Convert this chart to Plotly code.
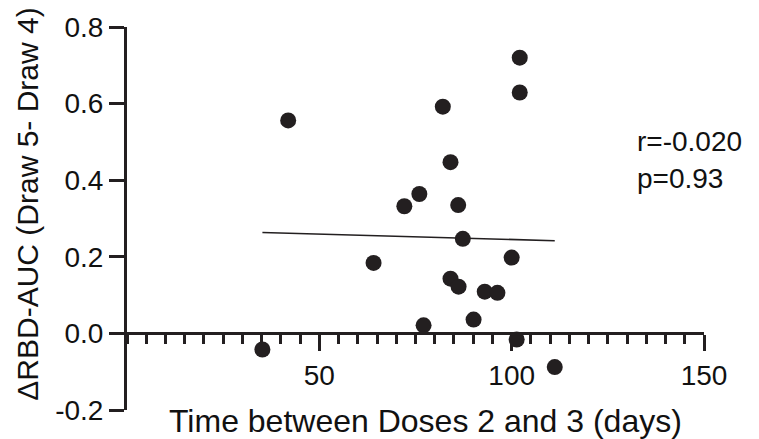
import numpy as np
import plotly.graph_objects as go

# Data
days = [35.2, 41.9, 64.1, 72.1, 76.0, 77.1, 82.1, 84.1, 84.1, 86.2,
        86.1, 87.3, 90.1, 93.0, 96.3, 100.0, 101.3, 102.1, 102.1, 111.2]
delta_auc = [-0.042, 0.556, 0.184, 0.332, 0.364, 0.021, 0.592, 0.447, 0.143, 0.122,
             0.335, 0.247, 0.036, 0.109, 0.106, 0.198, -0.016, 0.720, 0.629, -0.088]

x_ticks = [50, 100, 150]
y_ticks = [-0.2, 0.0, 0.2, 0.4, 0.6, 0.8]
y_tick_labels = ["-0.2", "0.0", "0.2", "0.4", "0.6", "0.8"]
stats_text = ["r=-0.020", "p=0.93"]

x_title = "Time between Doses 2 and 3 (days)"
y_title = "\u0394RBD-AUC (Draw 5- Draw 4)"

# linear regression from the data
slope, intercept = np.polyfit(days, delta_auc, 1)
fit_x = [min(days), max(days)]
fit_y = [slope * v + intercept for v in fit_x]

FONT = "Arial, Liberation Sans, Helvetica, sans-serif"
INK = "#231f20"

fig = go.Figure()
fig.add_trace(go.Scatter(x=fit_x, y=fit_y, mode="lines",
                         line=dict(color=INK, width=1.6), hoverinfo="skip",
                         showlegend=False))
fig.add_trace(go.Scatter(x=days, y=delta_auc, mode="markers",
                         marker=dict(size=16, color=INK), showlegend=False,
                         cliponaxis=False))

fig.update_layout(
    width=759, height=439,
    margin=dict(l=127, r=55, t=25, b=29),
    paper_bgcolor="white", plot_bgcolor="white",
    font=dict(family=FONT, color="#111111", size=26),
    xaxis=dict(range=[0, 150], anchor="free", position=0.2,
               showline=True, linecolor=INK, linewidth=3,
               ticks="outside", ticklen=16, tickwidth=3, tickcolor=INK,
               tickvals=x_ticks, ticktext=[str(v) for v in x_ticks],
               tickfont=dict(size=28), showgrid=False, zeroline=False,
               minor=dict(dtick=5, tick0=0, ticks="outside", ticklen=9,
                          tickwidth=3, tickcolor=INK, showgrid=False)),
    yaxis=dict(range=[-0.2, 0.8], showline=True, linecolor=INK, linewidth=3,
               ticks="outside", ticklen=15, tickwidth=3, tickcolor=INK,
               tickvals=y_ticks, ticktext=y_tick_labels,
               tickfont=dict(size=28), showgrid=False, zeroline=False),
)

fig.add_annotation(text=x_title, xref="paper", yref="paper", x=0.518, y=-0.028,
                   xanchor="center", yanchor="middle", showarrow=False,
                   font=dict(size=32))
fig.add_annotation(text=y_title, xref="paper", yref="paper", x=-0.172, y=0.538,
                   xanchor="center", yanchor="middle", textangle=-90,
                   showarrow=False, font=dict(size=30))
fig.add_annotation(text=stats_text[0], xref="x", yref="y", x=132.0, y=0.50,
                   xanchor="left", yanchor="middle", showarrow=False,
                   font=dict(size=28))
fig.add_annotation(text=stats_text[1], xref="x", yref="y", x=132.0, y=0.404,
                   xanchor="left", yanchor="middle", showarrow=False,
                   font=dict(size=28))

fig.write_html("out.html", config={"displayModeBar": False},
               post_script="document.body.style.margin='0';"
                           "document.body.style.padding='0';"
                           "document.body.style.overflow='hidden';")
